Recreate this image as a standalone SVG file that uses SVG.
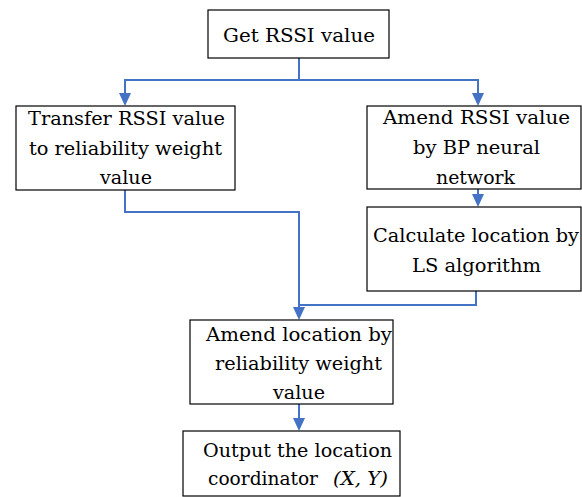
<svg xmlns="http://www.w3.org/2000/svg" width="582" height="497" viewBox="0 0 582 497">
<style>
.box{fill:#fff;stroke:#000;stroke-width:1.2}
.t{font-family:"DejaVu Serif",serif;font-size:19px;fill:#000;text-anchor:middle}
.s{font-family:"DejaVu Serif",serif;font-size:19px;fill:#000;text-anchor:start}
.c{fill:none;stroke:#4472C4;stroke-width:2}
.a{fill:#4472C4;stroke:none}
</style>
<g id="connectors">
<path class="c" d="M299,58 V80"/>
<path class="c" d="M299,80 H125 V96"/>
<path class="c" d="M299,80 H478 V96"/>
<path class="c" d="M478,189 V197"/>
<path class="c" d="M125,190 V212 H299 V310"/>
<path class="c" d="M476,291 V305 H299"/>
<path class="c" d="M299,404 V421"/>
<polygon class="a" points="119,93 131,93 125,106"/>
<polygon class="a" points="472,93 484,93 478,106"/>
<polygon class="a" points="472,194 484,194 478,207"/>
<polygon class="a" points="293,307 305,307 299,320"/>
<polygon class="a" points="293,418 305,418 299,431"/>
</g>
<g id="n1"><rect class="box" x="208" y="10" width="181" height="48"/><text class="t" x="299" y="42" textLength="152" lengthAdjust="spacingAndGlyphs">Get RSSI value</text></g>
<g id="n2"><rect class="box" x="16" y="106" width="219" height="84"/>
<text class="t" x="126.5" y="125" textLength="197" lengthAdjust="spacingAndGlyphs">Transfer RSSI value</text>
<text class="t" x="125.5" y="155" textLength="193" lengthAdjust="spacingAndGlyphs">to reliability weight</text>
<text class="t" x="126" y="184" textLength="52" lengthAdjust="spacingAndGlyphs">value</text></g>
<g id="n3"><rect class="box" x="367" y="106" width="214" height="83"/>
<text class="t" x="476.5" y="124" textLength="187" lengthAdjust="spacingAndGlyphs">Amend RSSI value</text>
<text class="t" x="476.5" y="154" textLength="127" lengthAdjust="spacingAndGlyphs">by BP neural</text>
<text class="t" x="475.5" y="184" textLength="79" lengthAdjust="spacingAndGlyphs">network</text></g>
<g id="n4"><rect class="box" x="367" y="207" width="214" height="84"/>
<text class="t" x="476" y="242" textLength="206" lengthAdjust="spacingAndGlyphs">Calculate location by</text>
<text class="t" x="476.5" y="272" textLength="129" lengthAdjust="spacingAndGlyphs">LS algorithm</text></g>
<g id="n5"><rect class="box" x="190" y="320" width="203" height="84"/>
<text class="t" x="299" y="341" textLength="186" lengthAdjust="spacingAndGlyphs">Amend location by</text>
<text class="t" x="298.5" y="370" textLength="167" lengthAdjust="spacingAndGlyphs">reliability weight</text>
<text class="t" x="299" y="399" textLength="52" lengthAdjust="spacingAndGlyphs">value</text></g>
<g id="n6"><rect class="box" x="183" y="431" width="217" height="65"/>
<text class="t" x="297.5" y="457" textLength="189" lengthAdjust="spacingAndGlyphs">Output the location</text>
<text class="s" x="208" y="485" textLength="110" lengthAdjust="spacingAndGlyphs">coordinator</text>
<text class="s" x="333" y="485" font-style="italic" textLength="55" lengthAdjust="spacingAndGlyphs">(X, Y)</text></g>
</svg>
